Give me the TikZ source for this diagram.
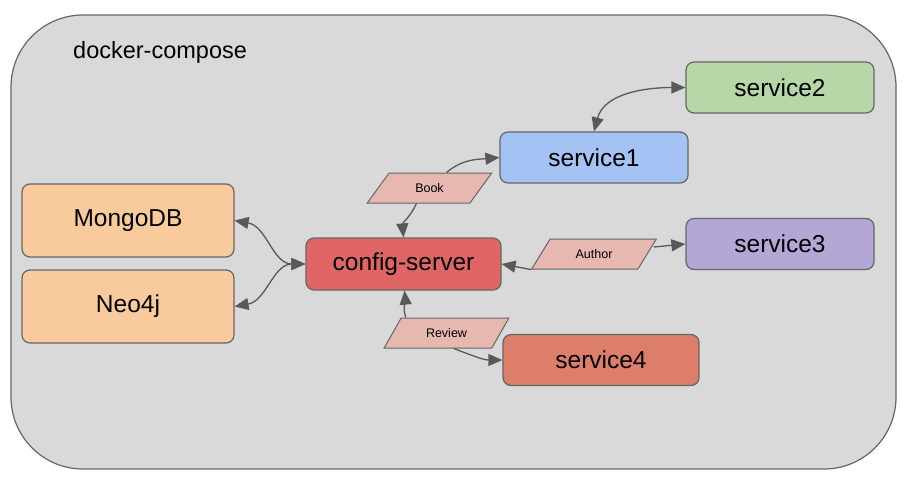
\documentclass[tikz,border=0pt]{standalone}
\usepackage{fontspec}
\setmainfont{Liberation Sans}
\definecolor{boxgray}{RGB}{217,217,217}
\definecolor{edgegray}{RGB}{102,102,102}
\definecolor{arrowgray}{RGB}{89,89,89}
\definecolor{svcgreen}{RGB}{182,215,168}
\definecolor{svcblue}{RGB}{164,194,244}
\definecolor{svcpurple}{RGB}{180,167,214}
\definecolor{svcsalmon}{RGB}{221,126,107}
\definecolor{cfgred}{RGB}{224,102,102}
\definecolor{dborange}{RGB}{249,203,156}
\definecolor{msgpink}{RGB}{230,184,175}
\usetikzlibrary{arrows.meta, shapes.geometric}

\begin{document}
\begin{tikzpicture}[x=1pt, y=-1pt,
  svc/.style={draw=edgegray, line width=1.2pt, rounded corners=8pt,
    minimum width=188pt, minimum height=51pt, align=center,
    font=\fontsize{24.5}{28}\selectfont},
  db/.style={svc, fill=dborange, minimum width=212pt, minimum height=73pt},
  msg/.style={draw=edgegray, line width=1pt, fill=msgpink, trapezium,
    trapezium left angle=50, trapezium right angle=130,
    trapezium stretches=true, minimum width=125pt, minimum height=30pt,
    inner sep=0pt, font=\fontsize{12.5}{14}\selectfont},
  arw/.style={-{Triangle[length=14pt, width=12pt]}, line width=1.3pt,
    arrowgray},
  arws/.style={{Triangle[length=14pt, width=12pt]}-{Triangle[length=14pt,
    width=12pt]}, line width=1.3pt, arrowgray},
]
\useasboundingbox (0,0) rectangle (909,483);

% docker-compose frame
\draw[draw=edgegray, line width=1.2pt, fill=boxgray, rounded corners=72pt]
  (11,15) rectangle (896,469);
\node[anchor=base west, inner sep=0pt, font=\fontsize{23.5}{28}\selectfont]
  (title) at (73,58) {docker-compose};

% Services
\node[svc, fill=cfgred, minimum width=195pt, minimum height=52pt]
  (config) at (403.5,264) {config-server};
\node[svc, fill=svcblue] (s1) at (594,157.5) {service1};
\node[svc, fill=svcgreen] (s2) at (780,87.5) {service2};
\node[svc, fill=svcpurple] (s3) at (780,244) {service3};
\node[svc, fill=svcsalmon, minimum width=196pt] (s4) at (601,360) {service4};

% Databases
\node[db] (mongo) at (128,220.5) {MongoDB};
\node[db] (neo) at (128,306.5) {Neo4j};

% Messages
\node[msg] (book) at (429.5,188) {Book};
\node[msg] (author) at (594,254) {Author};
\node[msg] (review) at (446.5,333) {Review};

% Arrows
\draw[arws] (s1.north) to[out=75, in=180] (s2.west);
\draw[arw] ([xshift=17pt]book.north) to[out=40, in=185] (s1.west);
\draw[arw] ([xshift=-13pt]book.south) to[out=-115, in=95] (config.north);
\draw[arw] (author.bottom left corner) -- (config.east);
\draw[arw] ([shift={(6,-7)}]author.east) -- (s3.west);
\draw[arw] ([xshift=5pt]review.top left corner) to[out=110, in=-85]
  ([xshift=1pt]config.south);
\draw[arw] ([xshift=7pt]review.south) to[out=-20, in=180] (s4.west);
\draw[arws] (mongo.east) to[out=-10, in=180] (config.west);
\draw[arws] (neo.east) to[out=10, in=180] (config.west);
\end{tikzpicture}
\end{document}
